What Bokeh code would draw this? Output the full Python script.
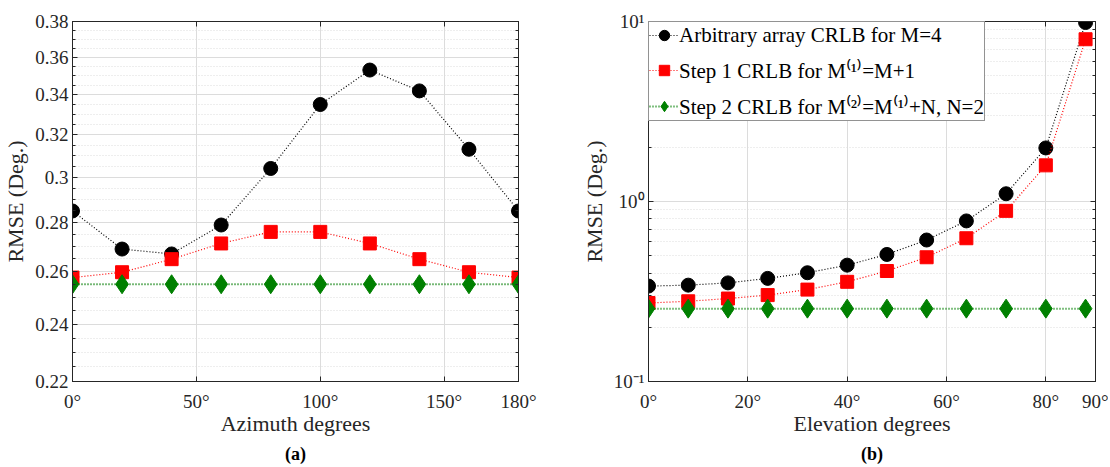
from bokeh.plotting import figure
from bokeh.layouts import row
from bokeh.models import FixedTicker, LinearAxis, LogAxis, CustomLabelingPolicy, Grid
from bokeh.embed import file_html
from bokeh.resources import INLINE

# ---------------- data ----------------
azimuth = [0, 20, 40, 60, 80, 100, 120, 140, 160, 180]
az_arbitrary = [0.285, 0.269, 0.267, 0.279, 0.304, 0.335, 0.353, 0.342, 0.313, 0.285]
az_step1 = [0.2576, 0.2597, 0.2649, 0.2713, 0.2761, 0.2761, 0.2713, 0.2649, 0.2597, 0.2576]
az_step2 = [0.255, 0.255, 0.255, 0.255, 0.255, 0.255, 0.255, 0.255, 0.255, 0.255]

elevation = [0, 8, 16, 24, 32, 40, 48, 56, 64, 72, 80, 88]
el_arbitrary = [0.339, 0.343, 0.353, 0.374, 0.402, 0.443, 0.508, 0.611, 0.780, 1.104, 1.984, 9.87]
el_step1 = [0.273, 0.279, 0.289, 0.302, 0.324, 0.358, 0.411, 0.490, 0.625, 0.887, 1.588, 7.97]
el_step2 = [0.254, 0.254, 0.254, 0.254, 0.254, 0.254, 0.254, 0.254, 0.254, 0.254, 0.254, 0.254]

az_ticks = [0, 50, 100, 150, 180]
az_tick_labels = ["0°", "50°", "100°", "150°", "180°"]
az_y_ticks = [0.22, 0.24, 0.26, 0.28, 0.3, 0.32, 0.34, 0.36, 0.38]
az_y_labels = ["0.22", "0.24", "0.26", "0.28", "0.3", "0.32", "0.34", "0.36", "0.38"]
az_y_minor = [0.225, 0.23, 0.235, 0.245, 0.25, 0.255, 0.265, 0.27, 0.275, 0.285, 0.29, 0.295,
              0.305, 0.31, 0.315, 0.325, 0.33, 0.335, 0.345, 0.35, 0.355, 0.365, 0.37, 0.375]

el_ticks = [0, 20, 40, 60, 80, 90]
el_tick_labels = ["0°", "20°", "40°", "60°", "80°", "90°"]
el_y_ticks = [0.1, 1, 10]
el_y_labels = ["10⁻¹", "10⁰", "10¹"]
el_y_minor = [0.2, 0.3, 0.4, 0.5, 0.6, 0.7, 0.8, 0.9, 2, 3, 4, 5, 6, 7, 8, 9]

labels = ["Arbitrary array CRLB for M=4",
          "Step 1 CRLB for M⁽¹⁾=M+1",
          "Step 2 CRLB for M⁽²⁾=M⁽¹⁾+N, N=2"]

FONT = "Liberation Serif"
AX = "#262626"
GRID = "#dcdcdc"


def style_axis(ax):
    ax.axis_line_color = AX
    ax.major_tick_line_color = AX
    ax.minor_tick_line_color = AX
    ax.major_tick_in = 5
    ax.major_tick_out = 0
    ax.minor_tick_in = 3
    ax.minor_tick_out = 0
    ax.major_label_text_font = FONT
    ax.major_label_text_color = AX
    ax.major_label_text_font_size = "19px"
    ax.axis_label_text_font = FONT
    ax.axis_label_text_font_style = "normal"
    ax.axis_label_text_font_size = "22px"
    ax.axis_label_text_color = AX


def build(title, xr, yr, fw, bl, br, xticks, xlabels, yticks, ylabels, yminor, xlabel):
    xt = FixedTicker(ticks=xticks)
    yt = FixedTicker(ticks=yticks, minor_ticks=yminor)
    p = figure(frame_width=fw, frame_height=360, x_range=xr, y_range=yr,
               x_axis_type=None, y_axis_type="log",
               min_border_left=bl, min_border_right=br, min_border_top=21, min_border_bottom=70,
               title=title, title_location="below", output_backend="svg", toolbar_location=None)
    yax = p.left[0]
    yax.ticker = yt
    yax.major_label_overrides = dict(zip(yticks, ylabels))
    yax.axis_label = "RMSE (Deg.)"
    style_axis(yax)
    yax.major_label_standoff = 4
    yax.axis_label_standoff = 4

    xax = LinearAxis(ticker=xt, axis_label=xlabel)
    xax.major_label_overrides = dict(zip(xticks, xlabels))
    style_axis(xax)
    xax.major_label_standoff = 9
    xax.axis_label_standoff = -4
    xax.minor_tick_line_color = None
    p.add_layout(xax, "below")

    hide = CustomLabelingPolicy(code="return null")
    top = LinearAxis(ticker=xt, major_label_policy=hide, major_label_standoff=0)
    style_axis(top)
    top.major_label_text_font_size = "6px"
    top.minor_tick_line_color = None
    p.add_layout(top, "above")
    right = LogAxis(ticker=yt, major_label_policy=hide, major_label_standoff=0)
    style_axis(right)
    right.major_label_text_font_size = "6px"
    p.add_layout(right, "right")

    p.title.text_font = FONT
    p.title.text_font_size = "18px"
    p.title.text_font_style = "bold"
    p.title.align = "center"
    p.title.text_color = "#000000"
    p.title.offset = 0
    p.title.standoff = 6
    p.outline_line_color = AX
    p.outline_line_alpha = 1
    p.outline_line_width = 1

    p.add_layout(Grid(dimension=0, ticker=xt, grid_line_color=GRID))
    p.add_layout(Grid(dimension=1, ticker=yt, grid_line_color=GRID,
                      minor_grid_line_color=GRID, minor_grid_line_dash="1 2"))
    return p


def add_series(p, x, y1, y2, y3):
    p.line(x, y1, line_color="black", line_dash="1 2", line_width=1.2, legend_label=labels[0])
    p.scatter(x, y1, marker="circle", size=14, fill_color="black", line_color="black",
              legend_label=labels[0])
    p.line(x, y2, line_color="red", line_dash="1 2", line_width=1.2, legend_label=labels[1])
    p.scatter(x, y2, marker="square", size=13, fill_color="red", line_color="red",
              legend_label=labels[1])
    p.line(x, y3, line_color="#008000", line_dash="1 2", line_width=2, legend_label=labels[2])
    p.scatter(x, y3, marker="diamond", size=19, fill_color="#008000", line_color="#008000",
              legend_label=labels[2])


p1 = build("(a)", (0, 180), (0.22, 0.38), 446, 64, 50,
           az_ticks, az_tick_labels, az_y_ticks, az_y_labels, az_y_minor, "Azimuth degrees")
add_series(p1, azimuth, az_arbitrary, az_step1, az_step2)
p1.legend.visible = False

p2 = build("(b)", (0, 90), (0.1, 10), 447, 80, 7,
           el_ticks, el_tick_labels, el_y_ticks, el_y_labels, el_y_minor, "Elevation degrees")
add_series(p2, elevation, el_arbitrary, el_step1, el_step2)
lg = p2.legend[0]
lg.location = "top_left"
lg.margin = 0
lg.padding = 0
lg.spacing = 8
lg.glyph_width = 30
lg.glyph_height = 26
lg.label_height = 26
lg.label_standoff = 0
lg.label_text_font = FONT
lg.label_text_font_size = "21px"
lg.label_text_color = "#000000"
lg.border_line_color = AX
lg.border_line_width = 1
lg.background_fill_alpha = 1

layout = row(p1, p2)
open("out.html", "w").write(file_html(layout, INLINE))
